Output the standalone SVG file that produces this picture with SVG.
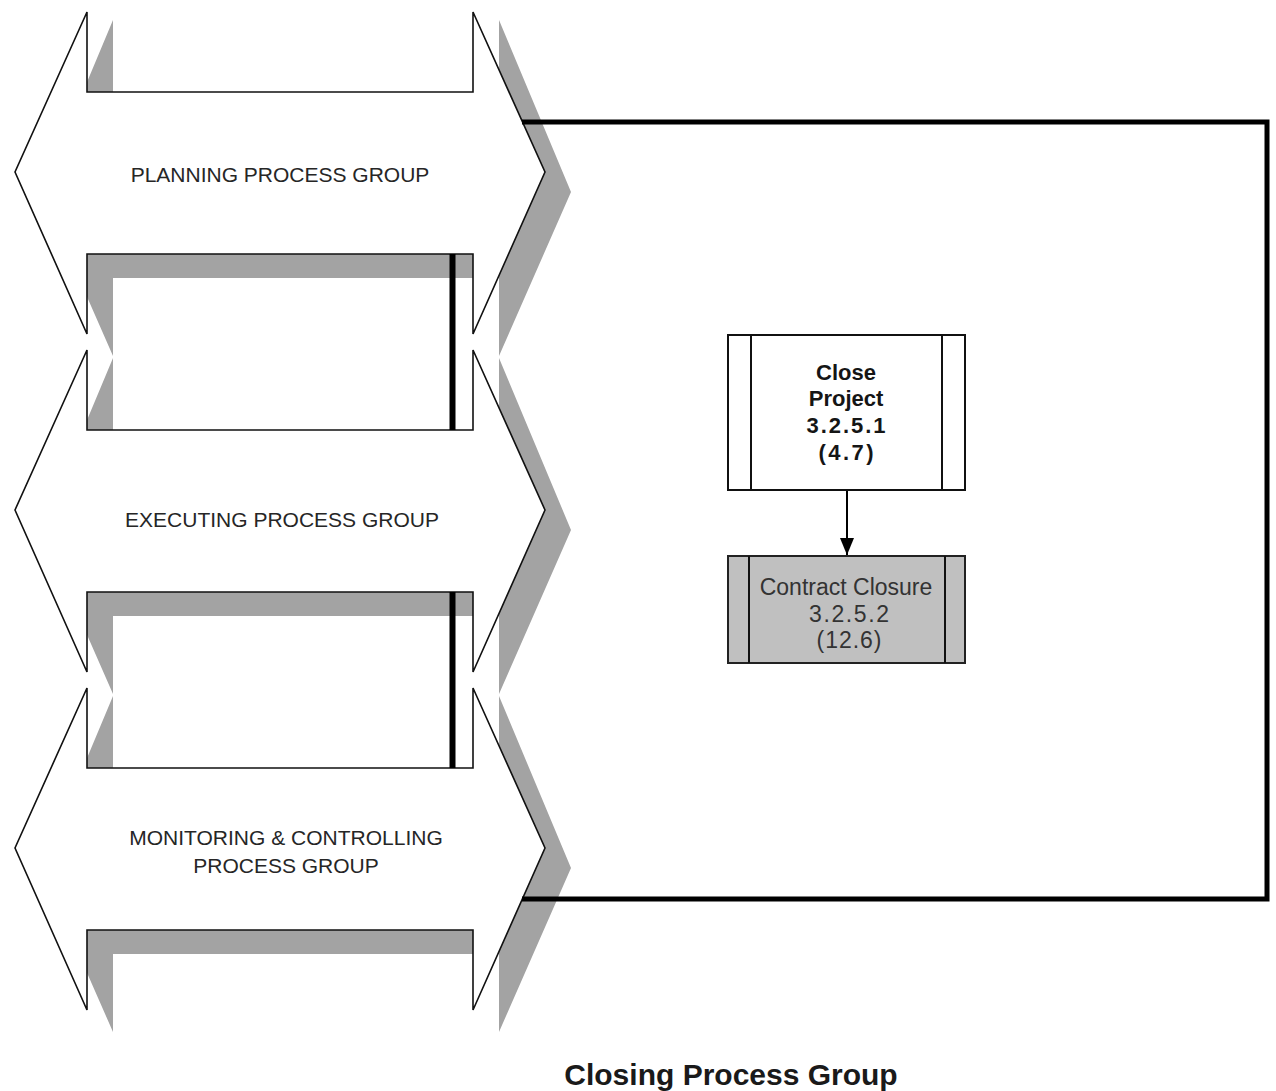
<svg xmlns="http://www.w3.org/2000/svg" width="1276" height="1091" viewBox="0 0 1276 1091">
  <style>
    .shadow { fill: #a3a3a3; stroke: none; }
    .arrow { fill: #ffffff; stroke: #111111; stroke-width: 1.6; stroke-linejoin: miter; }
    .bar { fill: none; stroke: #000000; stroke-width: 6; }
    .lbl { font-family: "Liberation Sans", Arial, sans-serif; font-size: 21px; fill: #262626; text-anchor: middle; }
    .frame { fill: none; stroke: #000000; stroke-width: 5; }
    .box { fill: #ffffff; stroke: #111111; stroke-width: 2; }
    .boxg { fill: #c0c0c0; stroke: #222222; stroke-width: 2; }
    .div { stroke: #111111; stroke-width: 2; }
    .t1 { font-family: "Liberation Sans", Arial, sans-serif; font-size: 22px; font-weight: bold; fill: #151515; text-anchor: middle; }
    .t2 { font-family: "Liberation Sans", Arial, sans-serif; font-size: 23px; fill: #333333; text-anchor: middle; }
    .title { font-family: "Liberation Sans", Arial, sans-serif; font-size: 30px; font-weight: bold; fill: #1a1a1a; text-anchor: middle; }
    .conn { stroke: #000000; stroke-width: 2; fill: none; }
  </style>
  <defs>
    <marker id="ah" markerWidth="17" markerHeight="14" refX="17" refY="7" orient="auto" markerUnits="userSpaceOnUse">
      <path d="M0,0 L17,7 L0,14 Z" fill="#000000"/>
    </marker>
  </defs>
  <rect x="0" y="0" width="1276" height="1091" fill="#ffffff"/>

  <g id="shadows">
    <polygon class="shadow" points="113,20 113,110 499,110 499,20 571,192 499,356 499,278 113,278 113,356 41,192"/>
    <polygon class="shadow" points="113,358 113,448 499,448 499,358 571,530 499,694 499,616 113,616 113,694 41,530"/>
    <polygon class="shadow" points="113,696 113,786 499,786 499,696 571,868 499,1032 499,954 113,954 113,1032 41,868"/>
  </g>

  <g id="planning">
    <polygon class="arrow" points="87,12 87,92 473,92 473,12 545,172 473,334 473,254 87,254 87,334 15,172"/>
    <text class="lbl" x="280" y="182">PLANNING PROCESS GROUP</text>
  </g>
  <g id="executing">
    <polygon class="arrow" points="87,350 87,430 473,430 473,350 545,510 473,672 473,592 87,592 87,672 15,510"/>
    <text class="lbl" x="282" y="527">EXECUTING PROCESS GROUP</text>
  </g>
  <g id="monitoring">
    <polygon class="arrow" points="87,688 87,768 473,768 473,688 545,848 473,1010 473,930 87,930 87,1010 15,848"/>
    <text class="lbl" x="286" y="845">MONITORING &amp; CONTROLLING</text>
    <text class="lbl" x="286" y="873">PROCESS GROUP</text>
  </g>

  <g id="bars">
    <line class="bar" x1="452.5" y1="254" x2="452.5" y2="430"/>
    <line class="bar" x1="452.5" y1="592" x2="452.5" y2="768"/>
  </g>

  <g id="closing-frame">
    <path class="frame" d="M522,122 H1267 V899 H522"/>
  </g>

  <g id="close-project">
    <rect class="box" x="728" y="335" width="237" height="155"/>
    <line class="div" x1="751" y1="335" x2="751" y2="490"/>
    <line class="div" x1="942" y1="335" x2="942" y2="490"/>
    <text class="t1" x="846" y="380">Close</text>
    <text class="t1" x="846" y="406">Project</text>
    <text class="t1" x="846" y="433" textLength="79" lengthAdjust="spacing">3.2.5.1</text>
    <text class="t1" x="846" y="460" textLength="55" lengthAdjust="spacing">(4.7)</text>
  </g>

  <g id="contract-closure">
    <rect class="boxg" x="728" y="556" width="237" height="107"/>
    <line class="div" x1="749" y1="556" x2="749" y2="663"/>
    <line class="div" x1="945" y1="556" x2="945" y2="663"/>
    <text class="t2" x="846" y="595">Contract Closure</text>
    <text class="t2" x="849" y="622" textLength="80" lengthAdjust="spacing">3.2.5.2</text>
    <text class="t2" x="849" y="648" textLength="65" lengthAdjust="spacing">(12.6)</text>
  </g>

  <g id="connectors">
    <line class="conn" x1="847" y1="491" x2="847" y2="555" marker-end="url(#ah)"/>
  </g>

  <g id="title">
    <text class="title" x="731" y="1085">Closing Process Group</text>
  </g>
</svg>
